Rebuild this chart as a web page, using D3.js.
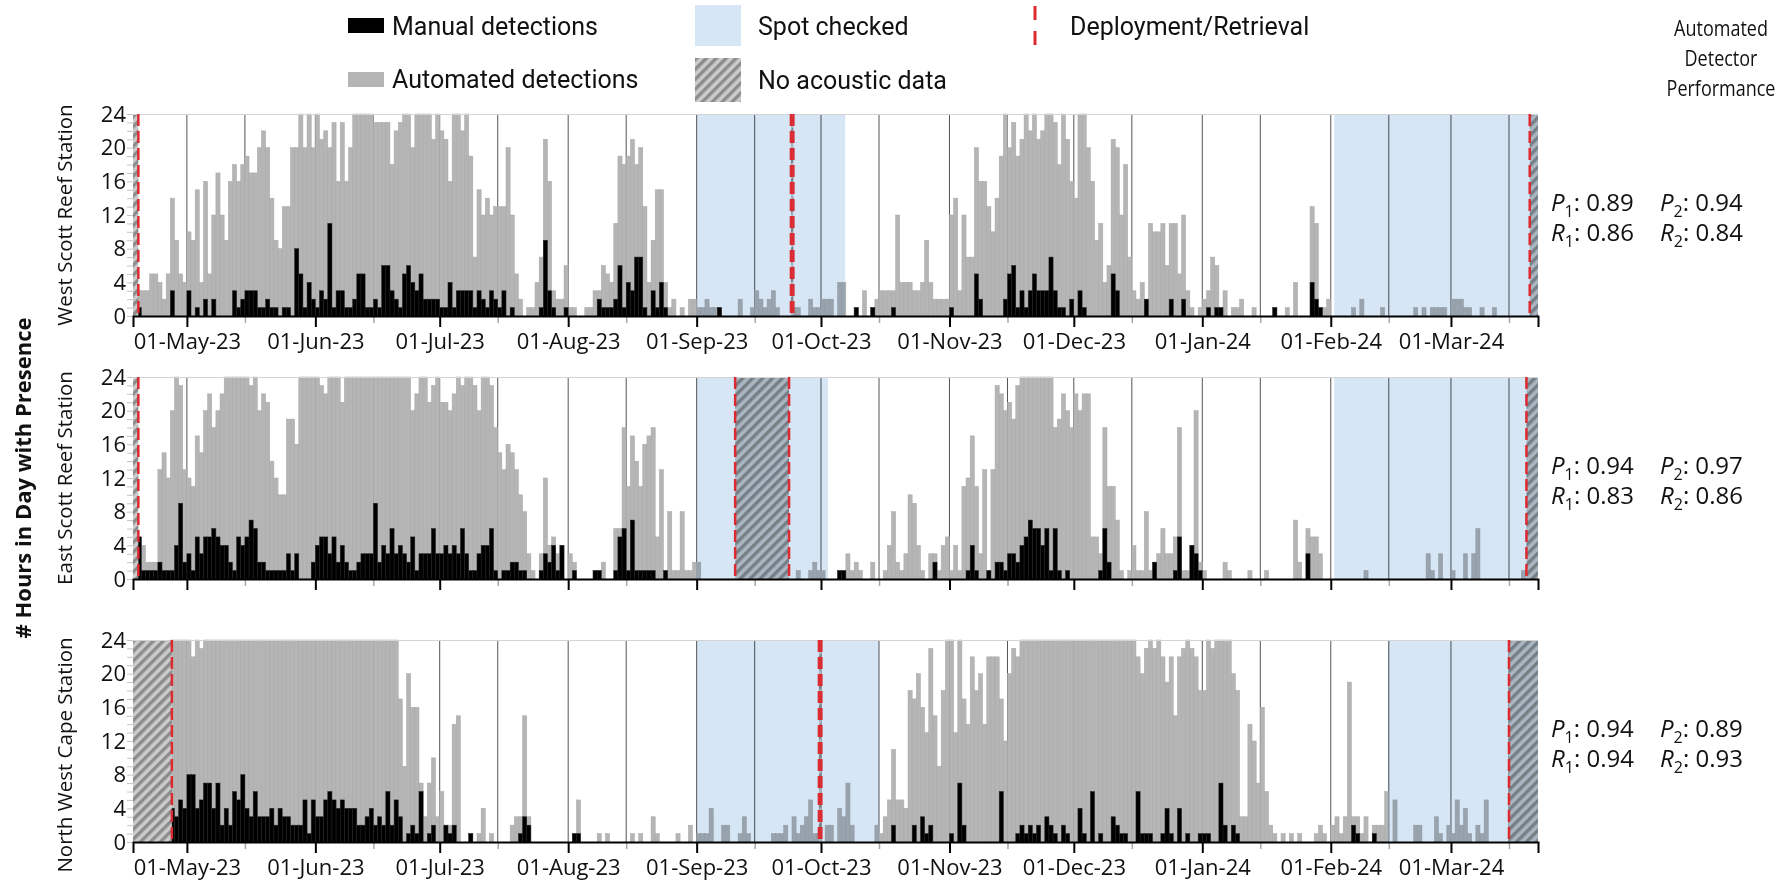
<!DOCTYPE html>
<html>
<head>
<meta charset="utf-8">
<script src="https://cdn.jsdelivr.net/npm/d3@7/dist/d3.min.js"></script>
<style>
  html, body { margin: 0; padding: 0; background: #fff; }
  svg { display: block; }
</style>
</head>
<body>
<svg id="chart" width="1775" height="881"></svg>
<script>
// ---------- data ----------
// Daily values start on firstDay; one value per day (hours with presence).
const firstDay = "2023-04-18";
const lastDay = "2024-03-22";

const stationNames = ["West Scott Reef Station", "East Scott Reef Station", "North West Cape Station"];

const westAuto = [
  0,3,3,3,5,5,4,2,5,14,9,5,4,
  10,9,15,4,16,5,12,17,12,9,16,18,16,18,19,17,17,20,22,20,14,9,8,13,13,20,20,24,20,24,20,
  24,21,22,20,23,16,23,16,20,24,24,24,24,24,23,23,23,23,18,22,23,24,24,20,24,24,24,24,21,24,
  22,21,16,24,24,22,24,19,7,15,12,14,12,13,13,13,20,12,5,2,0,1,1,4,7,21,16,3,2,2,6,
  1,1,0,0,1,1,3,3,6,5,4,11,19,18,19,21,18,20,13,4,9,15,15,4,1,2,0,1,0,2,2,
  1,1,2,1,1,1,0,0,0,0,2,0,0,1,3,2,1,2,3,1,0,0,0,1,1,0,0,2,1,1,
  2,2,2,0,4,4,0,0,1,0,3,0,1,2,3,3,3,3,12,4,4,4,3,3,4,9,4,2,2,2,2,
  12,14,3,12,7,7,20,16,16,13,10,14,19,24,20,23,19,21,24,22,24,21,22,24,24,23,18,24,21,16,
  14,24,24,20,16,9,11,4,6,21,20,12,18,7,3,2,4,1,11,10,10,11,6,11,11,5,12,3,1,0,1,
  2,3,7,6,1,3,0,1,1,2,0,0,1,0,0,0,0,1,0,0,1,0,4,0,0,0,13,11,1,1,2,
  0,0,0,0,0,1,0,2,0,0,0,0,1,0,0,0,0,0,0,0,1,0,1,0,1,1,1,1,0,
  2,2,2,1,1,0,0,1,0,0,1,0,0,0,0,0,0,0,0,0,0
];
const westManual = [
  0,1,0,0,0,0,0,0,0,3,0,0,0,
  3,0,1,0,2,0,2,0,0,0,0,3,1,2,3,3,3,1,1,2,1,1,0,1,1,0,8,5,1,4,2,
  1,3,2,11,1,3,3,1,1,2,5,5,1,1,2,1,6,6,3,2,1,5,6,4,3,5,2,2,2,2,
  1,1,4,1,3,3,3,3,1,3,2,1,3,2,1,3,0,1,0,0,0,0,0,0,1,9,3,1,0,0,1,
  0,0,0,0,0,0,0,2,1,1,1,2,6,1,4,3,7,7,1,0,3,1,4,1,0,0,0,0,0,0,0,
  0,0,0,0,0,1,0,0,0,0,0,0,0,0,0,0,0,0,0,0,0,0,0,0,0,0,0,0,0,0,
  0,0,0,0,0,0,0,0,1,0,0,0,1,0,0,0,0,1,0,0,0,0,0,0,0,0,0,0,0,0,0,
  1,0,0,0,0,0,5,2,0,0,0,0,0,2,5,6,1,3,1,3,5,3,3,3,7,3,1,1,0,2,
  0,3,1,0,0,0,0,0,0,5,3,0,0,0,0,0,0,2,0,0,0,0,0,2,0,0,2,0,0,0,0,
  0,1,0,1,1,0,0,0,0,0,0,0,0,0,0,0,0,1,0,0,0,0,0,0,0,0,4,2,1,0,0,
  0,0,0,0,0,0,0,0,0,0,0,0,0,0,0,0,0,0,0,0,0,0,0,0,0,0,0,0,0,
  0,0,0,0,0,0,0,0,0,0,0,0,0,0,0,0,0,0,0,0,0
];

const eastAuto = [
  0,5,4,2,2,2,13,15,12,20,24,23,13,
  12,11,17,15,20,22,18,20,22,24,24,24,24,24,24,23,24,20,22,21,14,12,10,10,19,19,16,24,24,24,24,
  24,23,22,24,24,24,21,24,24,24,24,24,24,24,24,24,24,24,24,24,24,24,24,20,22,24,24,21,23,24,
  21,21,20,22,24,23,24,24,23,20,24,24,23,18,15,13,16,15,13,10,8,3,1,0,3,12,4,5,3,4,0,
  3,2,0,0,0,0,1,1,2,0,0,6,6,18,11,17,14,11,16,17,18,5,13,1,8,1,1,8,1,1,2,
  2,0,0,0,0,0,0,0,0,0,0,0,0,0,0,0,0,0,0,0,0,0,0,0,1,0,0,1,2,1,
  1,0,0,0,1,1,3,1,2,1,0,0,2,0,0,1,4,8,2,1,3,10,9,4,1,0,3,3,1,4,5,
  1,4,1,11,12,17,11,3,13,1,13,23,22,20,21,19,23,24,24,24,24,24,24,24,24,18,19,22,20,18,
  22,20,22,22,5,5,3,18,11,11,7,1,0,1,4,1,1,8,1,2,3,6,3,3,5,18,1,1,4,20,2,
  1,0,0,0,0,2,1,0,0,0,0,1,0,0,0,1,0,0,0,0,0,0,7,2,0,6,5,5,3,0,0,
  0,0,0,0,0,0,0,0,1,0,0,0,0,0,0,0,0,0,0,0,0,0,0,3,1,0,3,0,0,
  1,0,0,3,0,3,6,0,0,0,0,0,0,0,0,0,0,1,0,0,0
];
const eastManual = [
  0,5,1,1,1,1,2,1,1,1,4,9,2,
  3,1,5,3,5,5,6,5,4,4,2,1,5,4,5,7,6,2,2,1,1,1,1,1,3,1,3,0,0,0,2,
  4,5,5,3,5,2,4,2,1,1,2,3,3,3,9,2,4,3,6,3,4,3,2,5,1,3,3,3,6,3,
  3,4,3,4,3,6,3,1,1,3,4,4,6,1,0,1,1,2,2,1,1,0,0,0,1,3,2,4,1,4,0,
  0,1,0,0,0,0,1,1,0,0,0,1,5,6,1,7,1,1,1,1,1,0,0,1,0,0,0,0,0,0,0,
  0,0,0,0,0,0,0,0,0,0,0,0,0,0,0,0,0,0,0,0,0,0,0,0,0,0,0,0,0,0,
  0,0,0,0,1,1,0,0,0,0,0,0,0,0,0,0,0,0,0,0,0,0,0,0,0,0,0,2,0,0,0,
  0,0,0,0,1,4,1,0,0,1,0,2,2,1,3,3,2,4,5,7,6,6,4,6,1,6,1,0,1,0,
  0,0,0,0,0,0,1,6,2,0,0,0,0,0,0,0,0,0,0,2,0,0,0,0,1,5,0,0,4,3,1,
  0,0,0,0,0,0,0,0,0,0,0,0,0,0,0,0,0,0,0,0,0,0,0,0,0,3,0,0,0,0,0,
  0,0,0,0,0,0,0,0,0,0,0,0,0,0,0,0,0,0,0,0,0,0,0,0,0,0,0,0,0,
  0,0,0,0,0,0,0,0,0,0,0,0,0,0,0,0,0,0,0,0,0
];

const capeAuto = [
  0,0,0,0,0,0,0,0,0,24,24,24,24,
  24,22,24,23,24,24,24,24,24,24,24,24,24,24,24,24,24,24,24,24,24,24,24,24,24,24,24,24,24,24,24,
  24,24,24,24,24,24,24,24,24,24,24,24,24,24,24,24,24,24,24,24,17,9,20,16,16,7,3,7,10,3,
  6,2,2,14,15,0,0,1,0,1,4,0,1,0,0,0,0,2,3,3,15,3,0,0,0,0,0,0,0,0,0,
  0,1,5,0,0,0,0,1,0,1,0,0,0,0,0,1,0,1,0,0,3,1,0,0,0,0,1,0,0,2,0,
  1,1,1,4,0,0,2,2,0,0,1,3,1,0,0,0,0,0,1,1,1,2,0,3,1,2,3,5,1,1,
  0,2,2,0,4,3,7,2,0,0,0,0,0,2,1,3,5,11,5,5,4,18,17,20,16,13,23,15,9,18,24,
  24,13,24,17,14,22,18,20,14,22,22,22,17,12,20,23,22,24,24,24,24,24,24,24,24,24,24,24,24,24,
  24,24,24,24,24,24,24,24,24,24,24,24,24,24,24,22,20,23,24,23,24,22,19,22,15,22,23,24,23,22,18,
  18,24,23,24,24,24,24,20,18,3,3,14,12,7,16,6,2,1,0,1,0,1,0,1,0,0,0,1,2,1,0,
  2,3,1,3,19,3,3,1,3,0,2,2,2,6,0,5,0,0,0,0,2,2,0,0,0,3,1,0,2,
  1,5,2,4,1,0,2,1,5,0,0,0,0,0,0,0,0,0,0,0,0
];
const capeManual = [
  0,0,0,0,0,0,0,0,0,4,3,5,4,
  8,8,4,5,7,7,4,7,2,4,2,6,5,8,4,3,6,3,3,3,4,2,4,3,3,2,2,2,5,1,5,
  3,3,5,6,5,4,5,4,4,4,2,2,3,4,2,3,2,6,2,5,3,0,1,2,1,6,0,1,2,0,
  0,2,1,2,0,0,0,1,0,0,0,0,0,0,0,0,0,0,0,1,3,2,0,0,0,0,0,0,0,0,0,
  0,1,1,0,0,0,0,0,0,0,0,0,0,0,0,0,0,0,0,0,0,0,0,0,0,0,0,0,0,0,0,
  0,0,0,0,0,0,0,0,0,0,0,0,0,0,0,0,0,0,0,0,0,0,0,0,0,0,0,0,0,0,
  0,0,0,0,0,0,0,0,0,0,0,0,0,0,0,0,0,2,0,0,0,0,2,0,3,1,2,0,0,0,0,
  1,0,7,2,0,0,0,0,0,0,0,0,6,0,0,0,1,2,1,2,1,2,0,3,2,1,0,2,1,0,
  0,4,1,0,6,0,1,0,0,3,2,1,1,0,0,6,1,1,1,0,0,1,4,1,0,4,0,1,0,0,1,
  1,1,0,0,7,2,0,2,1,0,0,0,0,0,0,0,0,0,0,0,0,0,0,0,0,0,0,0,0,0,0,
  0,0,0,0,0,2,1,0,0,0,1,0,0,0,0,0,0,0,0,0,0,0,0,0,0,0,0,0,0,
  0,0,0,0,0,0,0,0,0,0,0,0,0,0,0,0,0,0,0,0,0
];

// Periods without recordings (hatched), per station.
const noDataSpans = [
  [["2023-04-18T00:00", "2023-04-19T07:00"], ["2023-09-23T18:00", "2023-09-24T08:00"], ["2024-03-20T00:00", "2024-03-22T00:00"]],
  [["2023-04-18T00:00", "2023-04-19T07:00"], ["2023-09-10T07:00", "2023-09-23T07:00"], ["2024-03-19T05:00", "2024-03-22T00:00"]],
  [["2023-04-18T00:00", "2023-04-27T09:00"], ["2023-09-30T12:00", "2023-10-01T02:00"], ["2024-03-15T00:00", "2024-03-22T00:00"]]
];
// Periods where automated detections were only spot checked.
const spotCheckedSpans = [
  [["2023-09-01T00:00", "2023-10-06T20:00"], ["2024-02-01T20:00", "2024-03-22T00:00"]],
  [["2023-09-01T00:00", "2023-10-02T17:00"], ["2024-02-01T20:00", "2024-03-22T00:00"]],
  [["2023-09-01T00:00", "2023-10-15T00:00"], ["2024-02-14T19:00", "2024-03-22T00:00"]]
];

const precision1 = ["0.89", "0.94", "0.94"];
const precision2 = ["0.94", "0.97", "0.89"];
const recall1 = ["0.86", "0.83", "0.94"];
const recall2 = ["0.84", "0.86", "0.93"];

const majorTickDates = ["2023-05-01","2023-06-01","2023-07-01","2023-08-01","2023-09-01","2023-10-01",
  "2023-11-01","2023-12-01","2024-01-01","2024-02-01","2024-03-01"];
const minorTickDates = ["2023-05-15","2023-06-15","2023-07-15","2023-08-15","2023-09-15","2023-10-15",
  "2023-11-15","2023-12-15","2024-01-15","2024-02-15","2024-03-15"];
const yTickValues = [0, 4, 8, 12, 16, 20, 24];

const seriesAuto = [westAuto, eastAuto, capeAuto];
const seriesManual = [westManual, eastManual, capeManual];

// ---------- layout ----------
const plotLeft = 133, plotRight = 1538;
const panelTops = [114, 377, 640];
const panelH = 202;
const labelShift = [0, 0, 14];
const tickFont = "'Open Sans', 'DejaVu Sans', sans-serif";
const legendFont = "Roboto, 'Open Sans', sans-serif";
const GRAY = "#b5b5b5", BLUE = "#d6e6f4", RED = "#dc2a30";

const toDate = s => new Date((s.length === 10 ? s + "T00:00" : s) + ":00Z");

const svg = d3.select("#chart");
svg.append("rect").attr("width", 1775).attr("height", 881).attr("fill", "#fff");

const defs = svg.append("defs");
const pat = defs.append("pattern").attr("id", "hatch")
  .attr("patternUnits", "userSpaceOnUse").attr("width", 7).attr("height", 7)
  .attr("patternTransform", "rotate(45)");
pat.append("rect").attr("width", 7).attr("height", 7).attr("fill", "#cbcbcb");
pat.append("rect").attr("width", 3.4).attr("height", 7).attr("fill", "#8c8c8c");

const x = d3.scaleUtc().domain([toDate(firstDay), toDate(lastDay)]).range([plotLeft, plotRight]);
const start = toDate(firstDay);
const gridDates = majorTickDates.concat(minorTickDates).map(toDate);

seriesAuto.forEach((auto, i) => {
  const manual = seriesManual[i];
  const top = panelTops[i], bottom = top + panelH;
  const y = d3.scaleLinear().domain([0, 24]).range([bottom, top]);
  const g = svg.append("g");

  const days = auto.map((v, k) => {
    const d0 = d3.utcDay.offset(start, k);
    return { d0, d1: d3.utcDay.offset(d0, 1), auto: v, manual: manual[k] };
  });

  // vertical grid at the 1st and 15th of each month
  g.append("g").selectAll("line").data(gridDates).join("line")
    .attr("x1", d => x(d)).attr("x2", d => x(d))
    .attr("y1", top).attr("y2", bottom)
    .attr("stroke", "#555").attr("stroke-width", 1);

  // automated detections
  g.append("g").selectAll("rect").data(days.filter(d => d.auto > 0)).join("rect")
    .attr("x", d => x(d.d0)).attr("width", d => x(d.d1) - x(d.d0))
    .attr("y", d => y(d.auto)).attr("height", d => y(0) - y(d.auto))
    .attr("fill", GRAY).attr("stroke", "#a7a7a7").attr("stroke-width", 0.5);

  // manual detections
  g.append("g").selectAll("rect").data(days.filter(d => d.manual > 0)).join("rect")
    .attr("x", d => x(d.d0)).attr("width", d => x(d.d1) - x(d.d0))
    .attr("y", d => y(d.manual)).attr("height", d => y(0) - y(d.manual))
    .attr("fill", "#000").attr("stroke", "#222").attr("stroke-width", 0.5);

  // no acoustic data
  const gaps = noDataSpans[i].map(s => s.map(toDate));
  g.append("g").selectAll("rect").data(gaps).join("rect")
    .attr("x", d => x(d[0])).attr("width", d => x(d[1]) - x(d[0]))
    .attr("y", top).attr("height", panelH)
    .attr("fill", "url(#hatch)");

  // spot-checked periods tint everything beneath them
  const spots = spotCheckedSpans[i].map(s => s.map(toDate));
  g.append("g").selectAll("rect").data(spots).join("rect")
    .attr("x", d => x(d[0])).attr("width", d => x(d[1]) - x(d[0]))
    .attr("y", top).attr("height", panelH)
    .attr("fill", BLUE).style("mix-blend-mode", "multiply");

  // top frame line
  g.append("line").attr("x1", plotLeft).attr("x2", plotRight)
    .attr("y1", top + 0.5).attr("y2", top + 0.5)
    .attr("stroke", "#d4d4d4").attr("stroke-width", 1);

  // y axis: minor ticks every hour, labels every 4
  const yMinor = g.append("g").attr("transform", `translate(${plotLeft},0)`)
    .call(d3.axisLeft(y).tickValues(d3.range(0, 25)).tickSize(6).tickFormat(""));
  yMinor.select(".domain").remove();
  yMinor.selectAll(".tick line").attr("stroke", "#c4c4c4").attr("stroke-width", 1);

  const yAx = g.append("g").attr("transform", `translate(${plotLeft},0)`)
    .call(d3.axisLeft(y).tickValues(yTickValues).tickSize(0).tickPadding(7));
  yAx.select(".domain").remove();
  yAx.selectAll(".tick text").attr("font-family", tickFont).attr("font-size", 22).attr("fill", "#111");

  // x axis
  const xMinor = g.append("g").attr("transform", `translate(0,${bottom})`)
    .call(d3.axisBottom(x).tickValues(minorTickDates.map(toDate)).tickSize(7).tickFormat(""));
  xMinor.select(".domain").remove();
  xMinor.selectAll(".tick line").attr("stroke", "#a8a8a8").attr("stroke-width", 1.5);

  const xAx = g.append("g").attr("transform", `translate(0,${bottom})`)
    .call(d3.axisBottom(x).tickValues(majorTickDates.map(toDate)).tickSize(11).tickPadding(6)
      .tickFormat(i === 1 ? "" : d3.utcFormat("%d-%b-%y")));
  xAx.select(".domain").attr("stroke", "#000").attr("stroke-width", 2);
  xAx.selectAll(".tick line").attr("stroke", "#000").attr("stroke-width", 2);
  xAx.selectAll(".tick text").attr("font-family", tickFont).attr("font-size", 22).attr("fill", "#111");

  // deployment / retrieval markers at the edges of recording gaps
  const marks = [];
  gaps.forEach(([a, b]) => {
    if (+a > +x.domain()[0]) marks.push(a);
    if (+b < +x.domain()[1]) marks.push(b);
  });
  g.append("g").selectAll("line").data(marks).join("line")
    .attr("x1", d => x(d)).attr("x2", d => x(d))
    .attr("y1", top).attr("y2", bottom)
    .attr("stroke", RED).attr("stroke-width", 2.5).attr("stroke-dasharray", "12,5");

  // station label
  svg.append("text")
    .attr("transform", `translate(72,${top + panelH / 2 + labelShift[i]}) rotate(-90)`)
    .attr("text-anchor", "middle")
    .attr("font-family", tickFont).attr("font-size", 20.5).attr("fill", "#111")
    .text(stationNames[i]);

  // detector performance
  const mid = top + panelH / 2;
  const perf = [
    [1551, mid - 4, "P", "1", precision1[i]], [1660, mid - 4, "P", "2", precision2[i]],
    [1551, mid + 26, "R", "1", recall1[i]], [1660, mid + 26, "R", "2", recall2[i]]
  ];
  perf.forEach(([px, py, letter, sub, val]) => {
    const t = svg.append("text").attr("x", px).attr("y", py)
      .attr("font-family", tickFont).attr("font-size", 24).attr("fill", "#111");
    t.append("tspan").attr("font-style", "italic").text(letter);
    t.append("tspan").attr("font-size", 16).attr("dy", 6).text(sub);
    t.append("tspan").attr("dy", -6).text(": " + val);
  });
});

// y axis title
svg.append("text")
  .attr("transform", "translate(31,478) rotate(-90)")
  .attr("text-anchor", "middle")
  .attr("font-family", tickFont).attr("font-size", 22).attr("font-weight", 700).attr("fill", "#111")
  .text("# Hours in Day with Presence");

// ---------- legend ----------
const lg = svg.append("g");
lg.append("rect").attr("x", 348).attr("y", 18).attr("width", 36).attr("height", 15).attr("fill", "#000");
lg.append("rect").attr("x", 348).attr("y", 72).attr("width", 36).attr("height", 15).attr("fill", GRAY);
lg.append("rect").attr("x", 695).attr("y", 5).attr("width", 46).attr("height", 41).attr("fill", BLUE);
lg.append("rect").attr("x", 695).attr("y", 58).attr("width", 46).attr("height", 44).attr("fill", "url(#hatch)");
lg.append("line").attr("x1", 1035).attr("x2", 1035).attr("y1", 6).attr("y2", 46)
  .attr("stroke", RED).attr("stroke-width", 3).attr("stroke-dasharray", "14,11");
const legendItems = [
  [392, 35, "Manual detections"], [392, 88, "Automated detections"],
  [758, 35, "Spot checked"], [758, 89, "No acoustic data"],
  [1070, 35, "Deployment/Retrieval"]
];
lg.selectAll("text").data(legendItems).join("text")
  .attr("x", d => d[0]).attr("y", d => d[1])
  .attr("font-family", legendFont).attr("font-size", 25).attr("fill", "#111")
  .text(d => d[2]);

// narrow header above the performance figures
svg.append("g").selectAll("text").data(["Automated", "Detector", "Performance"]).join("text")
  .attr("transform", (d, k) => `translate(1721,${36 + k * 30}) scale(0.8,1)`)
  .attr("text-anchor", "middle")
  .attr("font-family", tickFont).attr("font-size", 22.5).attr("fill", "#111")
  .text(d => d);
</script>
</body>
</html>
